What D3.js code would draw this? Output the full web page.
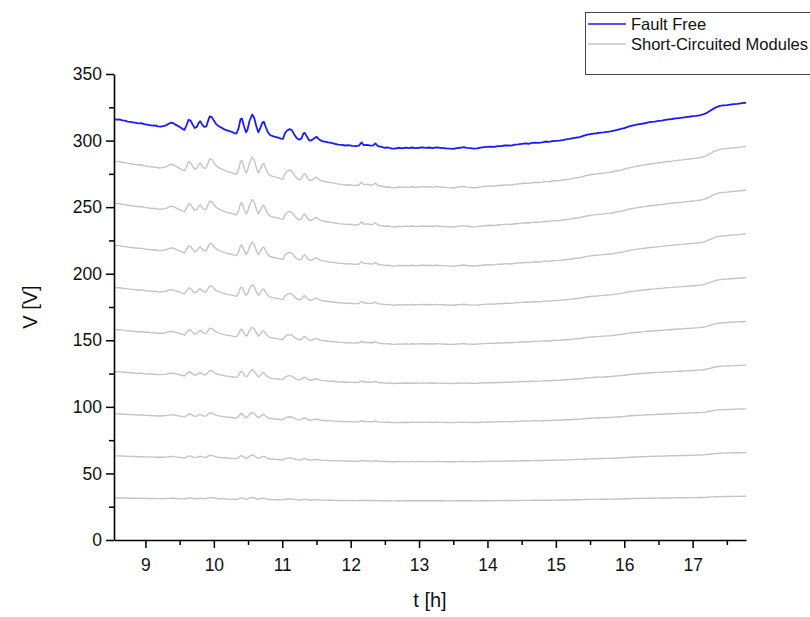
<!DOCTYPE html>
<html>
<head>
<meta charset="utf-8">
<script src="https://cdn.jsdelivr.net/npm/d3@7"></script>
<style>
  html, body { margin: 0; padding: 0; background: #fff; }
  svg { display: block; font-family: "Liberation Sans", Arial, sans-serif; }
</style>
</head>
<body>
<svg id="chart" width="810" height="617"></svg>
<script>
// Time of day [h]
const hours = [
  8.54, 8.58, 8.62, 8.66, 8.70, 8.74, 8.78, 8.82, 8.86, 8.90, 8.94, 8.98, 9.02, 9.06, 9.10, 9.14, 9.18, 9.22, 9.26, 9.30,
  9.34, 9.37, 9.40, 9.43, 9.46, 9.50, 9.54, 9.57, 9.60, 9.63, 9.66, 9.69, 9.72, 9.75, 9.78, 9.80, 9.83, 9.86, 9.89, 9.91,
  9.94, 9.97, 10.00, 10.03, 10.06, 10.10, 10.14, 10.18, 10.22, 10.26, 10.30, 10.33, 10.36, 10.39, 10.41, 10.44, 10.47, 10.49, 10.52, 10.56,
  10.59, 10.62, 10.65, 10.68, 10.71, 10.73, 10.76, 10.79, 10.82, 10.86, 10.90, 10.94, 10.98, 11.01, 11.04, 11.07, 11.11, 11.14, 11.17, 11.21,
  11.25, 11.28, 11.31, 11.33, 11.36, 11.39, 11.42, 11.46, 11.50, 11.53, 11.57, 11.62, 11.67, 11.72, 11.77, 11.82, 11.87, 11.92, 11.97, 12.02,
  12.07, 12.12, 12.16, 12.19, 12.24, 12.29, 12.33, 12.36, 12.40, 12.45, 12.50, 12.55, 12.60, 12.65, 12.70, 12.75, 12.80, 12.85, 12.90, 12.95,
  13.00, 13.05, 13.10, 13.15, 13.20, 13.25, 13.30, 13.35, 13.40, 13.45, 13.50, 13.55, 13.60, 13.65, 13.70, 13.75, 13.80, 13.85, 13.90, 13.95,
  14.00, 14.05, 14.10, 14.15, 14.20, 14.25, 14.30, 14.35, 14.40, 14.45, 14.50, 14.55, 14.60, 14.65, 14.70, 14.75, 14.80, 14.85, 14.90, 14.95,
  15.00, 15.05, 15.10, 15.15, 15.20, 15.25, 15.30, 15.35, 15.40, 15.45, 15.50, 15.55, 15.60, 15.65, 15.70, 15.75, 15.80, 15.85, 15.90, 15.95,
  16.00, 16.05, 16.10, 16.15, 16.20, 16.25, 16.30, 16.35, 16.40, 16.45, 16.50, 16.55, 16.60, 16.65, 16.70, 16.75, 16.80, 16.85, 16.90, 16.95,
  17.00, 17.05, 17.10, 17.15, 17.20, 17.25, 17.30, 17.35, 17.40, 17.45, 17.50, 17.55, 17.60, 17.65, 17.70, 17.75, 17.78
];

// String voltage of the fault-free string [V]
const faultFree = [
  316.0, 315.8, 315.9, 315.2, 314.9, 314.3, 314.0, 313.6, 313.3, 312.9, 313.1, 312.3, 312.0, 311.6, 311.2, 311.4, 310.6, 310.5, 310.9, 311.4,
  312.6, 313.4, 313.2, 312.2, 311.4, 310.2, 308.8, 308.0, 311.5, 315.6, 315.0, 312.0, 309.4, 310.2, 313.4, 314.6, 312.0, 310.2, 310.6, 314.0,
  318.2, 317.6, 315.0, 312.6, 311.2, 310.0, 308.8, 307.8, 307.2, 306.6, 305.6, 305.3, 309.0, 316.0, 316.6, 311.0, 306.2, 307.8, 314.5, 319.6,
  317.0, 311.0, 306.2, 309.5, 313.6, 314.2, 310.0, 306.2, 304.2, 303.4, 302.8, 302.2, 301.5, 301.2, 305.5, 307.6, 308.6, 307.8, 305.0, 302.0,
  300.6, 301.5, 305.4, 305.8, 303.0, 300.4, 300.0, 301.4, 302.9, 301.2, 299.8, 299.2, 298.6, 298.2, 297.6, 297.0, 296.8, 296.3, 296.5, 296.0,
  295.8, 296.2, 298.6, 296.6, 296.8, 296.2, 296.4, 297.9, 295.8, 295.2, 294.6, 294.8, 294.0, 293.9, 294.6, 294.2, 294.7, 294.3, 294.8, 294.4,
  294.6, 294.9, 294.5, 294.8, 294.3, 294.9, 294.6, 294.4, 294.1, 293.9, 293.8, 294.4, 294.6, 295.1, 294.5, 294.3, 294.0, 294.2, 294.7, 295.0,
  295.3, 295.5, 295.2, 295.9, 295.8, 296.3, 296.4, 296.2, 296.9, 297.1, 297.5, 297.9, 297.6, 298.2, 298.4, 298.3, 298.7, 299.3, 299.0, 299.6,
  299.8, 300.0, 300.4, 300.9, 301.2, 301.8, 302.3, 302.6, 303.5, 304.2, 304.8, 305.2, 305.5, 305.9, 306.2, 306.6, 306.9, 307.5, 308.1, 308.7,
  309.4, 310.3, 311.0, 311.6, 312.1, 312.6, 313.0, 313.6, 314.0, 314.3, 314.8, 315.0, 315.6, 315.9, 316.2, 316.6, 316.9, 317.2, 317.6, 317.9,
  318.3, 318.6, 319.0, 319.6, 320.6, 322.2, 323.8, 325.2, 326.0, 326.4, 326.6, 327.0, 327.4, 327.6, 327.9, 328.3, 328.4
];

// Number of short-circuited modules in each of the faulty strings (10 modules per string)
const modulesPerString = 10;
const shortedModules = [1, 2, 3, 4, 5, 6, 7, 8, 9];

const xTicks = [9, 10, 11, 12, 13, 14, 15, 16, 17];
const yTicks = [0, 50, 100, 150, 200, 250, 300, 350];
const legendLabels = ["Fault Free", "Short-Circuited Modules"];
const seriesColors = ["#1a1aff", "#c4c4c4"];

(function draw() {
  const svg = d3.select("#chart");
  const plotLeft = 114, plotRight = 746, plotTop = 74, plotBottom = 540;

  const x = d3.scaleLinear().domain([8.54, 17.78]).range([plotLeft, plotRight]);
  const y = d3.scaleLinear().domain([0, 350]).range([plotBottom, plotTop]);

  const line = d3.line()
    .x(d => x(d[0]))
    .y(d => y(d[1]));

  // Faulty strings: voltage drops by one module share per shorted module
  const faulty = shortedModules.map(n =>
    hours.map((t, i) => [t, faultFree[i] * (modulesPerString - n) / modulesPerString])
  );
  svg.append("g")
    .selectAll("path")
    .data(faulty)
    .join("path")
    .attr("d", line)
    .attr("fill", "none")
    .attr("stroke", seriesColors[1])
    .attr("stroke-width", 1.4)
    .attr("stroke-linejoin", "round");

  svg.append("path")
    .datum(hours.map((t, i) => [t, faultFree[i]]))
    .attr("d", line)
    .attr("fill", "none")
    .attr("stroke", seriesColors[0])
    .attr("stroke-width", 1.8)
    .attr("stroke-linejoin", "round");

  // Axes: major ticks with labels, minor ticks between
  const xMinor = d3.range(9.5, 17.8, 1);
  const yMinor = d3.range(25, 350, 50);

  const xAxis = svg.append("g").attr("transform", `translate(0,${plotBottom})`);
  xAxis.call(d3.axisBottom(x).tickValues(xTicks).tickFormat(d3.format("d")).tickSize(8).tickSizeOuter(0));
  xAxis.append("g").call(d3.axisBottom(x).tickValues(xMinor).tickFormat("").tickSize(5).tickSizeOuter(0))
    .select(".domain").remove();

  const yAxis = svg.append("g").attr("transform", `translate(${plotLeft},0)`);
  yAxis.call(d3.axisLeft(y).tickValues(yTicks).tickFormat(d3.format("d")).tickSize(8).tickSizeOuter(0));
  yAxis.append("g").call(d3.axisLeft(y).tickValues(yMinor).tickFormat("").tickSize(5).tickSizeOuter(0))
    .select(".domain").remove();

  svg.selectAll(".domain").attr("stroke", "#000").attr("stroke-width", 1.6);
  svg.selectAll(".tick line").attr("stroke", "#000").attr("stroke-width", 1.5);
  svg.selectAll(".tick text")
    .attr("font-family", "Liberation Sans, Arial, sans-serif")
    .attr("font-size", 17.5)
    .attr("fill", "#111");
  xAxis.selectAll(".tick text").attr("dy", "1.12em");
  yAxis.selectAll(".tick text").attr("x", -12);

  // Axis titles
  svg.append("text")
    .attr("x", (plotLeft + plotRight) / 2)
    .attr("y", 607)
    .attr("text-anchor", "middle")
    .attr("font-size", 20)
    .attr("fill", "#111")
    .text("t [h]");

  svg.append("text")
    .attr("transform", `translate(37,${(plotTop + plotBottom) / 2}) rotate(-90)`)
    .attr("text-anchor", "middle")
    .attr("font-size", 20)
    .attr("fill", "#111")
    .text("V [V]");

  // Legend
  const legend = svg.append("g");
  legend.append("rect")
    .attr("x", 585.5).attr("y", 12.5)
    .attr("width", 240).attr("height", 62)
    .attr("fill", "#fff").attr("stroke", "#444").attr("stroke-width", 1);
  legendLabels.forEach((label, i) => {
    const cy = 24 + i * 20;
    legend.append("line")
      .attr("x1", 588).attr("x2", 626)
      .attr("y1", cy).attr("y2", cy)
      .attr("stroke", seriesColors[i]).attr("stroke-width", 1.5);
    legend.append("text")
      .attr("x", 631).attr("y", cy + 5.5)
      .attr("font-size", 16.5)
      .attr("fill", "#111")
      .text(label);
  });
})();
</script>
</body>
</html>
